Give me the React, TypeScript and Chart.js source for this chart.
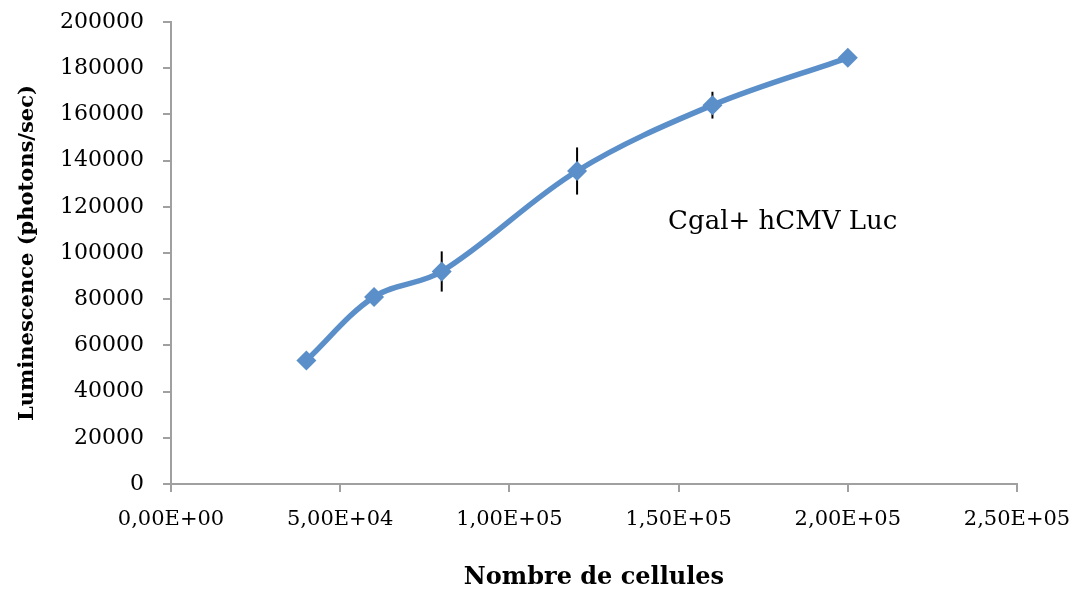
import React, { useEffect, useRef } from "react";
import { Chart, registerables } from "chart.js";

Chart.register(...registerables);

const cellCounts = [40000, 60000, 80000, 120000, 160000, 200000];
const luminescence = [53500, 81000, 92000, 135500, 164000, 184500];
const errors = [0, 0, 8700, 10200, 5800, 0];
const xTickLabels = ["0,00E+00", "5,00E+04", "1,00E+05", "1,50E+05", "2,00E+05", "2,50E+05"];
const seriesLabel = "Cgal+ hCMV Luc";
const xTitle = "Nombre de cellules";
const yTitle = "Luminescence (photons/sec)";
const annotationPos = { x: 146900, y: 113500 };

const LINE_COLOR = "#5B8FC9";
const AXIS_COLOR = "#A0A0A0";
const FONT = "'DejaVu Serif', serif";

export default function App() {
  const ref = useRef<HTMLCanvasElement | null>(null);

  useEffect(() => {
    if (!ref.current) return;

    const errorBars = {
      id: "errorBars",
      beforeDatasetsDraw(chart: any) {
        const { ctx, scales } = chart;
        ctx.save();
        ctx.strokeStyle = "#000000";
        ctx.lineWidth = 2;
        cellCounts.forEach((x, i) => {
          const e = errors[i];
          if (!e) return;
          const px = scales.x.getPixelForValue(x);
          ctx.beginPath();
          ctx.moveTo(px, scales.y.getPixelForValue(luminescence[i] + e));
          ctx.lineTo(px, scales.y.getPixelForValue(luminescence[i] - e));
          ctx.stroke();
        });
        ctx.restore();
      },
    };

    const annotation = {
      id: "annotation",
      afterDatasetsDraw(chart: any) {
        const { ctx, scales } = chart;
        ctx.save();
        ctx.fillStyle = "#000000";
        ctx.font = `26px ${FONT}`;
        ctx.textAlign = "left";
        ctx.textBaseline = "middle";
        ctx.fillText(
          seriesLabel,
          scales.x.getPixelForValue(annotationPos.x),
          scales.y.getPixelForValue(annotationPos.y)
        );
        ctx.restore();
      },
    };

    const chart = new Chart(ref.current, {
      type: "line",
      data: {
        datasets: [
          {
            label: seriesLabel,
            data: cellCounts.map((x, i) => ({ x, y: luminescence[i] })),
            borderColor: LINE_COLOR,
            backgroundColor: LINE_COLOR,
            borderWidth: 5.5,
            tension: 0.35,
            pointStyle: "rectRot",
            pointRadius: 10,
            pointBorderWidth: 0,
            pointBackgroundColor: LINE_COLOR,
            fill: false,
          },
        ],
      },
      options: {
        animation: false,
        responsive: true,
        maintainAspectRatio: false,
        layout: { padding: { left: 0, right: 57, top: 22, bottom: 0 } },
        plugins: {
          legend: { display: false },
          tooltip: { enabled: false },
        },
        scales: {
          x: {
            type: "linear",
            min: 0,
            max: 250000,
            border: { display: true, color: AXIS_COLOR, width: 2 },
            grid: {
              display: true,
              drawOnChartArea: false,
              drawTicks: true,
              tickLength: 8,
              color: AXIS_COLOR,
              lineWidth: 2,
            },
            ticks: {
              stepSize: 50000,
              color: "#000000",
              padding: 15,
              maxRotation: 0,
              font: { family: FONT, size: 21 },
              callback: (_v: any, i: number) => xTickLabels[i],
            },
            title: {
              display: true,
              text: xTitle,
              color: "#000000",
              font: { family: FONT, size: 24, weight: "bold" },
              padding: { top: 0, bottom: 0 },
            },
            afterFit: (s: any) => {
              s.height = 108;
              s.paddingLeft = 0;
              s.paddingRight = 0;
            },
          },
          y: {
            type: "linear",
            min: 0,
            max: 200000,
            border: { display: true, color: AXIS_COLOR, width: 2 },
            grid: {
              display: true,
              drawOnChartArea: false,
              drawTicks: true,
              tickLength: 8,
              color: AXIS_COLOR,
              lineWidth: 2,
            },
            ticks: {
              stepSize: 20000,
              color: "#000000",
              padding: 19,
              font: { family: FONT, size: 22 },
              callback: (v: any) => String(v),
            },
            title: {
              display: true,
              text: yTitle,
              color: "#000000",
              font: { family: FONT, size: 21, weight: "bold" },
              padding: { top: 15, bottom: 0 },
            },
            afterFit: (s: any) => {
              s.width = 171;
              s.paddingTop = 0;
              s.paddingBottom = 0;
            },
          },
        },
      },
      plugins: [errorBars, annotation],
    });

    return () => chart.destroy();
  }, []);

  return (
    <div
      style={{
        position: "fixed",
        left: 0,
        top: 0,
        width: 1074,
        height: 592,
        background: "#ffffff",
      }}
    >
      <canvas ref={ref} />
    </div>
  );
}
